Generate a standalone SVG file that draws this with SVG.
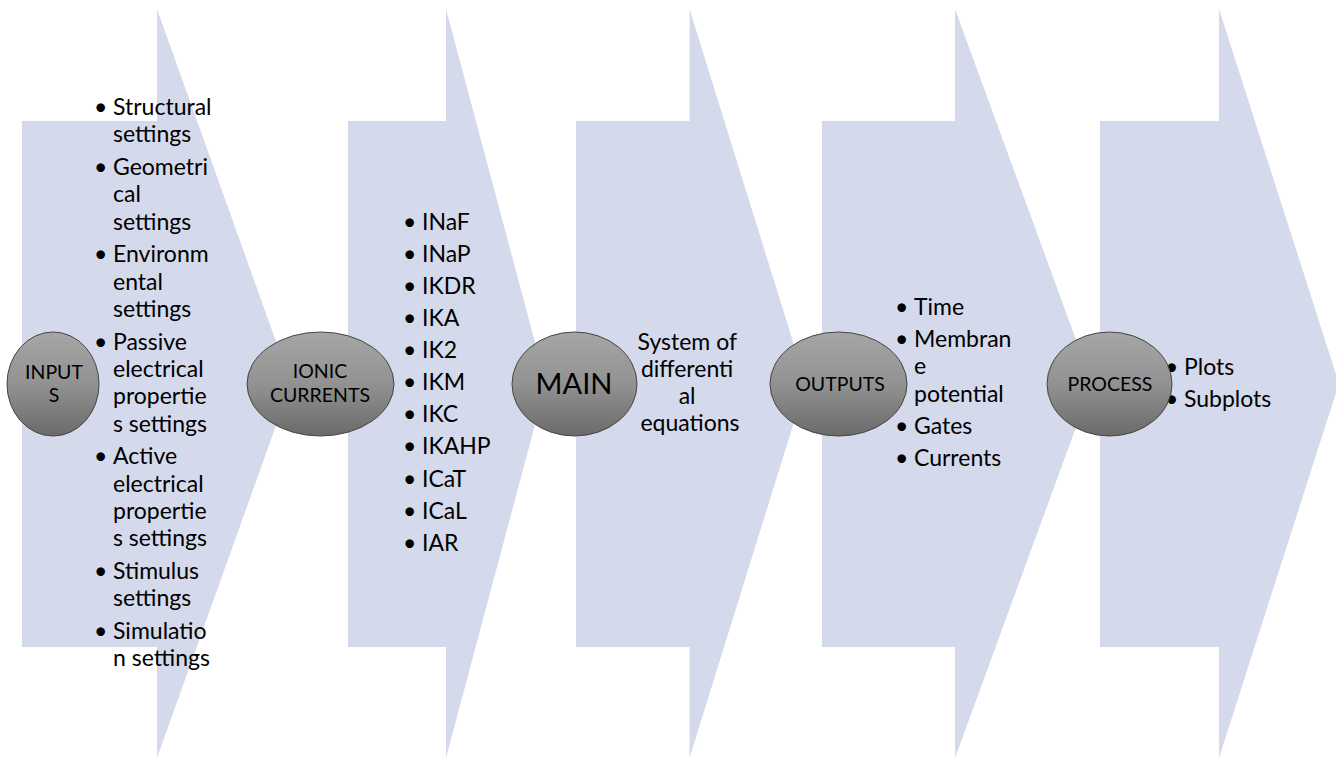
<svg xmlns="http://www.w3.org/2000/svg" width="1336" height="759" viewBox="0 0 1336 759">
<defs>
<linearGradient id="g" x1="0" y1="0" x2="0" y2="1">
<stop offset="0" stop-color="#a6a6a6"/>
<stop offset="0.5" stop-color="#929292"/>
<stop offset="1" stop-color="#6a6a6a"/>
</linearGradient>
<style>
.arr{fill:#d4d9eb;}
.ell{fill:url(#g);stroke:#454545;stroke-width:1;}
.t{font-family:Lato,"Liberation Sans",sans-serif;font-size:23px;fill:#000;}
.lab{font-family:Lato,"Liberation Sans",sans-serif;font-size:19.5px;fill:#000;text-anchor:middle;}
.main{font-family:Lato,"Liberation Sans",sans-serif;font-size:29px;fill:#000;text-anchor:middle;}
.c{text-anchor:middle;}
</style>
</defs>
<rect width="1336" height="759" fill="#fff"/>
<g id="connectors">
<path class="arr" d="M22,121 H157 V9 L291,383.5 L157,758 V647 H22 Z"/>
<path class="arr" d="M348,121 H446 V9 L546,383.5 L446,758 V647 H348 Z"/>
<path class="arr" d="M576,121 H689.5 V9 L806,383.5 L689.5,758 V647 H576 Z"/>
<path class="arr" d="M822,121 H955 V9 L1092,383.5 L955,758 V647 H822 Z"/>
<path class="arr" d="M1100,121 H1219 V9 L1339,383.5 L1219,758 V647 H1100 Z"/>
</g>
<g id="inputs-list">
<text class="t">
<tspan x="94" y="115">•</tspan><tspan x="113" y="115">Structural</tspan>
<tspan x="113" y="142.3">settings</tspan>
<tspan x="94" y="175">•</tspan><tspan x="113" y="175">Geometri</tspan>
<tspan x="113" y="202.3">cal</tspan>
<tspan x="113" y="229.6">settings</tspan>
<tspan x="94" y="262.3">•</tspan><tspan x="113" y="262.3">Environm</tspan>
<tspan x="113" y="289.6">ental</tspan>
<tspan x="113" y="316.9">settings</tspan>
<tspan x="94" y="349.6">•</tspan><tspan x="113" y="349.6">Passive</tspan>
<tspan x="113" y="376.9">electrical</tspan>
<tspan x="113" y="404.2">propertie</tspan>
<tspan x="113" y="431.5">s settings</tspan>
<tspan x="94" y="464.2">•</tspan><tspan x="113" y="464.2">Active</tspan>
<tspan x="113" y="491.5">electrical</tspan>
<tspan x="113" y="518.8">propertie</tspan>
<tspan x="113" y="546.1">s settings</tspan>
<tspan x="94" y="578.8">•</tspan><tspan x="113" y="578.8">Stimulus</tspan>
<tspan x="113" y="606.1">settings</tspan>
<tspan x="94" y="638.8">•</tspan><tspan x="113" y="638.8">Simulatio</tspan>
<tspan x="113" y="666.1">n settings</tspan>
</text>
</g>
<g id="ionic-list">
<text class="t">
<tspan x="403" y="229.7">•</tspan><tspan x="422" y="229.7">INaF</tspan>
<tspan x="403" y="261.8">•</tspan><tspan x="422" y="261.8">INaP</tspan>
<tspan x="403" y="293.9">•</tspan><tspan x="422" y="293.9">IKDR</tspan>
<tspan x="403" y="326">•</tspan><tspan x="422" y="326">IKA</tspan>
<tspan x="403" y="358.1">•</tspan><tspan x="422" y="358.1">IK2</tspan>
<tspan x="403" y="390.2">•</tspan><tspan x="422" y="390.2">IKM</tspan>
<tspan x="403" y="422.3">•</tspan><tspan x="422" y="422.3">IKC</tspan>
<tspan x="403" y="454.4">•</tspan><tspan x="422" y="454.4">IKAHP</tspan>
<tspan x="403" y="486.5">•</tspan><tspan x="422" y="486.5">ICaT</tspan>
<tspan x="403" y="518.6">•</tspan><tspan x="422" y="518.6">ICaL</tspan>
<tspan x="403" y="550.7">•</tspan><tspan x="422" y="550.7">IAR</tspan>
</text>
</g>
<g id="main-text">
<text class="t c">
<tspan x="690" y="350">System of</tspan>
<tspan x="690" y="377">differenti</tspan>
<tspan x="690" y="404">al</tspan>
<tspan x="690" y="431">equations</tspan>
</text>
</g>
<g id="outputs-list">
<text class="t">
<tspan x="895" y="314.5">•</tspan><tspan x="914" y="314.5">Time</tspan>
<tspan x="895" y="346.7">•</tspan><tspan x="914" y="346.7">Membran</tspan>
<tspan x="914" y="374">e</tspan>
<tspan x="914" y="401.5">potential</tspan>
<tspan x="895" y="433.5">•</tspan><tspan x="914" y="433.5">Gates</tspan>
<tspan x="895" y="465.7">•</tspan><tspan x="914" y="465.7">Currents</tspan>
</text>
</g>
<g id="process-list">
<text class="t">
<tspan x="1165" y="375">•</tspan><tspan x="1184" y="375">Plots</tspan>
<tspan x="1165" y="407">•</tspan><tspan x="1184" y="407">Subplots</tspan>
</text>
</g>
<g id="node-inputs">
<ellipse class="ell" cx="53" cy="384" rx="46" ry="52"/>
<text class="lab"><tspan x="54" y="379">INPUT</tspan><tspan x="54" y="401.5">S</tspan></text>
</g>
<g id="node-ionic">
<ellipse class="ell" cx="320.5" cy="384" rx="73.5" ry="52"/>
<text class="lab"><tspan x="320" y="378.3">IONIC</tspan><tspan x="320" y="401.7">CURRENTS</tspan></text>
</g>
<g id="node-main">
<ellipse class="ell" cx="574.5" cy="384" rx="62.5" ry="52"/>
<text class="main" x="574" y="394">MAIN</text>
</g>
<g id="node-outputs">
<ellipse class="ell" cx="838.5" cy="384" rx="68.5" ry="52"/>
<text class="lab" x="840" y="390.7">OUTPUTS</text>
</g>
<g id="node-process">
<ellipse class="ell" cx="1109.5" cy="384" rx="62.5" ry="52"/>
<text class="lab" x="1110" y="390.7">PROCESS</text>
</g>
</svg>
